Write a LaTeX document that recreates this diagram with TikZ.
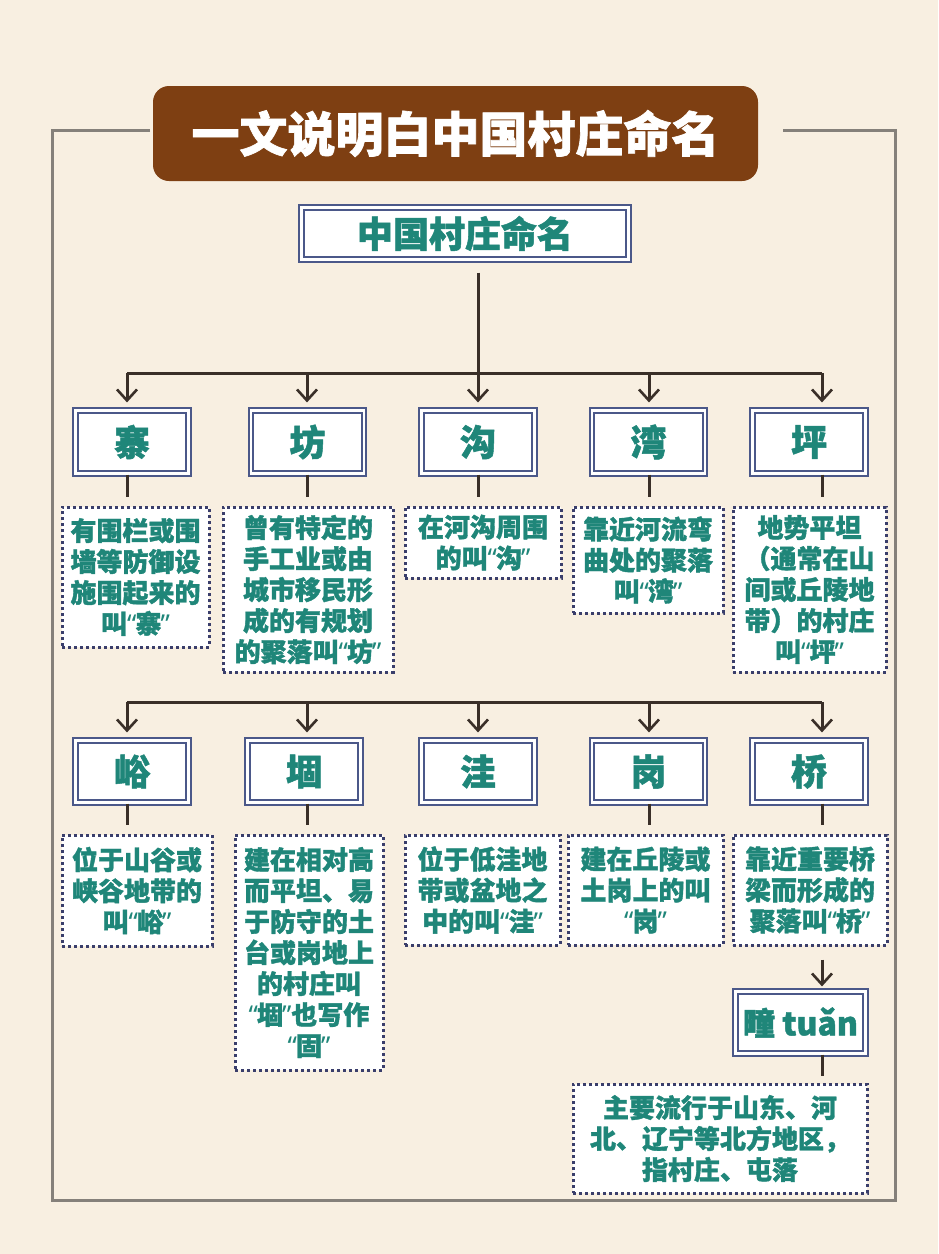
\documentclass[tikz,border=0pt]{standalone}
\usepackage{fontspec}
\setmainfont{Noto Sans CJK SC}[BoldFeatures={FakeBold=1.4}]
\newfontfamily\qfont{Noto Sans}[BoldFeatures={FakeBold=1.4}]
\usetikzlibrary{arrows.meta}
\definecolor{bgc}{HTML}{F8EFE1}
\definecolor{brownc}{HTML}{7E3F12}
\definecolor{tealc}{HTML}{1F8679}
\definecolor{boxc}{HTML}{4B5889}
\definecolor{dotc}{HTML}{3A3E6B}
\definecolor{connc}{HTML}{3A2F28}
\definecolor{framec}{HTML}{85807A}
\newcommand\qo{{\qfont\bfseries “}\kern-1pt}
\newcommand\qc{\kern-1pt{\qfont\bfseries ”}}
\tikzset{
  kbox/.style={draw=boxc, line width=2.2pt, double=white, double distance=2.4pt, fill=white,
    inner sep=0pt, text=tealc, font=\bfseries\fontsize{36}{40}\selectfont},
  desc/.style={draw=dotc, line width=3pt, dash pattern=on 3pt off 3pt, fill=white,
    inner sep=0pt, align=center, text=tealc, font=\bfseries\fontsize{26}{31}\selectfont},
  conn/.style={draw=connc, line width=3pt},
  arr/.style={conn, -{Straight Barb[length=11pt,width=20pt,line width=2.6pt]}}
}
\begin{document}
\begin{tikzpicture}[x=1pt,y=-1pt]
\fill[bgc] (0,0) rectangle (938,1254);
\useasboundingbox (0,0) rectangle (938,1254);
% outer frame
\draw[framec, line width=3pt] (150,130) -- (52,130) -- (52,1200) -- (895,1200) -- (895,130) -- (783,130);
% title
\fill[brownc, rounded corners=16pt] (153,86) rectangle (758,181);
\node[text=white, font=\bfseries\fontsize{48}{50}\selectfont] (title) at (455.5,133.5) {一文说明白中国村庄命名};
% main box
\node[kbox, minimum width=327pt, minimum height=52pt] (main) at (465,233.5) {中国村庄命名};
% bus coordinates
\coordinate (a1) at (127,373); \coordinate (a2) at (307,373); \coordinate (a3) at (478,373);
\coordinate (a4) at (649,373); \coordinate (a5) at (822,373);
\coordinate (b1) at (127,702); \coordinate (b2) at (307,702); \coordinate (b3) at (478,702);
\coordinate (b4) at (649,702); \coordinate (b5) at (822,702);
% row 1 boxes
\node[kbox, minimum width=113pt, minimum height=63pt] (z1) at (132,442) {寨};
\node[kbox, minimum width=113pt, minimum height=63pt] (z2) at (307.5,442) {坊};
\node[kbox, minimum width=113pt, minimum height=63pt] (z3) at (478,442) {沟};
\node[kbox, minimum width=113pt, minimum height=63pt] (z4) at (648.5,442) {湾};
\node[kbox, minimum width=113pt, minimum height=63pt] (z5) at (809,442) {坪};
% row 1 descriptions
\node[desc, minimum width=147pt, minimum height=140pt] (d1) at (135.5,577) {有围栏或围\\墙等防御设\\施围起来的\\叫\qo 寨\qc};
\node[desc, minimum width=170pt, minimum height=165pt] (d2) at (308,589.5) {曾有特定的\\手工业或由\\城市移民形\\成的有规划\\的聚落叫\qo 坊\qc};
\node[desc, minimum width=156pt, minimum height=71pt] (d3) at (483,542.5) {在河沟周围\\的叫\qo 沟\qc};
\node[desc, minimum width=150pt, minimum height=106pt] (d4) at (648,560) {靠近河流弯\\曲处的聚落\\叫\qo 湾\qc};
\node[desc, minimum width=153pt, minimum height=165pt] (d5) at (809.5,589.5) {地势平坦\\（通常在山\\间或丘陵地\\带）的村庄\\叫\qo 坪\qc};
% row 2 boxes
\node[kbox, minimum width=113pt, minimum height=62pt] (w1) at (132,771.5) {峪};
\node[kbox, minimum width=113pt, minimum height=62pt] (w2) at (304,771.5) {堌};
\node[kbox, minimum width=113pt, minimum height=62pt] (w3) at (478,771.5) {洼};
\node[kbox, minimum width=113pt, minimum height=62pt] (w4) at (648.5,771.5) {岗};
\node[kbox, minimum width=113pt, minimum height=62pt] (w5) at (809,771.5) {桥};
% row 2 descriptions
\node[desc, minimum width=150pt, minimum height=111pt] (e1) at (137,890.5) {位于山谷或\\峡谷地带的\\叫\qo 峪\qc};
\node[desc, minimum width=148pt, minimum height=235pt] (e2) at (309,952.5) {建在相对高\\而平坦、易\\于防守的土\\台或岗地上\\的村庄叫\\\qo 堌\qc 也写作\\\qo 固\qc};
\node[desc, minimum width=155pt, minimum height=110pt] (e3) at (482.5,890) {位于低洼地\\带或盆地之\\中的叫\qo 洼\qc};
\node[desc, minimum width=155pt, minimum height=110pt] (e4) at (645.5,890) {建在丘陵或\\土岗上的叫\\\qo 岗\qc};
\node[desc, minimum width=154pt, minimum height=110pt] (e5) at (810,890) {靠近重要桥\\梁而形成的\\聚落叫\qo 桥\qc};
% tuan
\node[kbox, minimum width=130pt, minimum height=62pt, font=\bfseries\fontsize{32}{36}\selectfont] (tu) at (800.5,1022.5) {疃 tuǎn};
\node[desc, minimum width=294pt, minimum height=109pt] (tud) at (720,1138.5) {主要流行于山东、河\\北、辽宁等北方地区，\\指村庄、屯落};
% connectors
\draw[conn, shorten <=12pt] (main.south -| a3) -- (a3);
\draw[conn] (a1) -- (a5);
\draw[conn] (b1) -- (b5);
\foreach \c/\n in {a1/z1,a2/z2,a3/z3,a4/z4,a5/z5,b1/w1,b2/w2,b3/w3,b4/w4,b5/w5}{
  \draw[arr, shorten >=7pt] (\c) -- (\n.north -| \c);
}
\foreach \c/\n/\d in {a1/z1/d1,a2/z2/d2,a3/z3/d3,a4/z4/d4,a5/z5/d5,b1/w1/e1,b2/w2/e2,b4/w4/e4,b5/w5/e5}{
  \draw[conn, shorten >=9pt] (\n.south -| \c) -- (\d.north -| \c);
}
\draw[arr, shorten <=13pt, shorten >=4pt] (e5.south -| b5) -- (tu.north -| b5);
\draw[conn, shorten >=7pt] (tu.south -| b5) -- (tud.north -| b5);
\end{tikzpicture}
\end{document}
